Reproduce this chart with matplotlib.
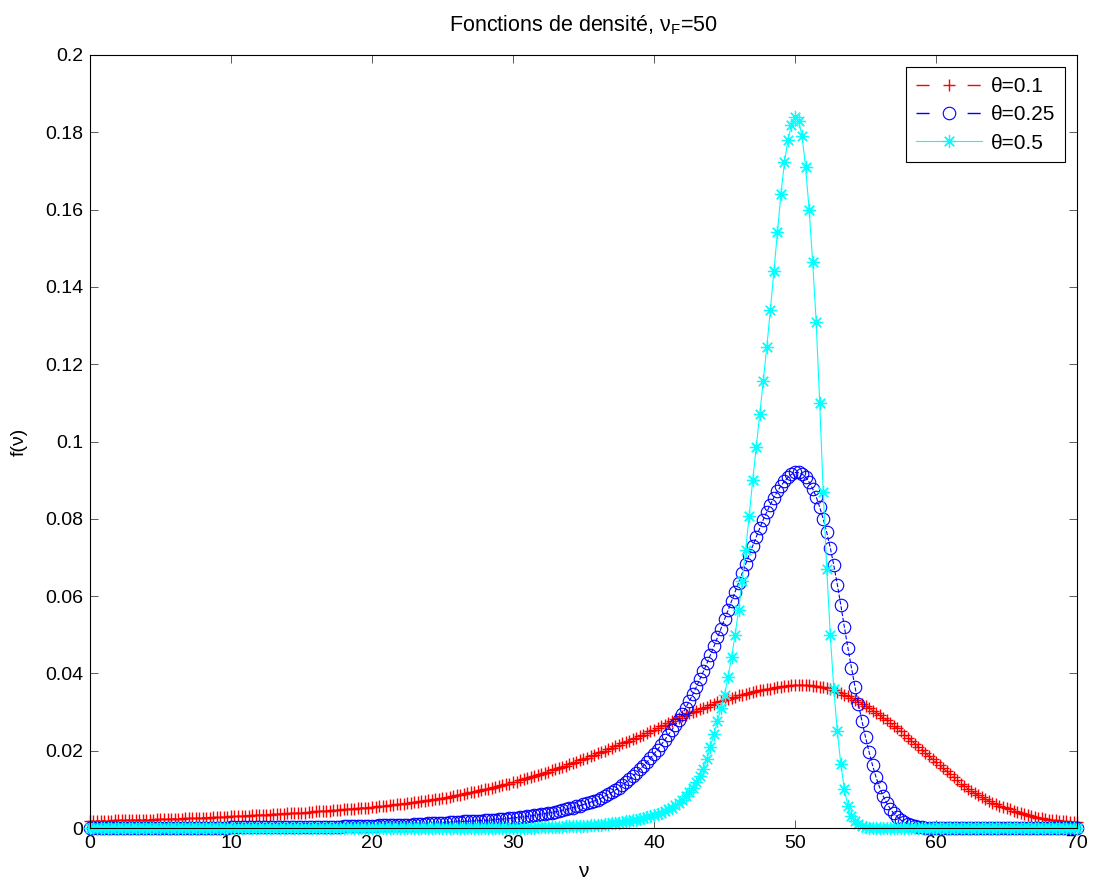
import matplotlib
matplotlib.use('Agg')
import numpy as np
import matplotlib.pyplot as plt

plt.rcParams['font.family'] = ['Liberation Sans', 'DejaVu Sans']
plt.rcParams['mathtext.fontset'] = 'custom'
plt.rcParams['mathtext.rm'] = 'Liberation Sans'

# nu grid (step 0.25), densities
nu = np.arange(0, 70.01, 0.25)

# theta = 0.1  (one row per unit of nu: nu, nu+.25, nu+.5, nu+.75)
dens_01 = [
    .0018, .0018, .0018, .0019,  .0019, .0019, .0019, .0020,
    .0020, .0020, .0020, .0021,  .0021, .0021, .0021, .0022,
    .0022, .0022, .0022, .0023,  .0023, .0023, .0023, .0024,
    .0024, .0024, .0024, .0025,  .0025, .0025, .0026, .0026,
    .0027, .0027, .0027, .0028,  .0028, .0028, .0029, .0029,
    .0030, .0030, .0031, .0031,  .0032, .0032, .0033, .0033,
    .0034, .0034, .0035, .0035,  .0036, .0036, .0037, .0037,
    .0038, .0038, .0039, .0039,  .0040, .0040, .0041, .0042,
    .0043, .0043, .0044, .0044,  .0045, .0046, .0047, .0047,
    .0048, .0049, .0050, .0050,  .0051, .0052, .0053, .0053,
    .0054, .0055, .0056, .0057,  .0058, .0059, .0060, .0061,
    .0062, .0063, .0065, .0066,  .0067, .0068, .0070, .0071,
    .0072, .0073, .0075, .0076,  .0078, .0079, .0081, .0083,
    .0085, .0086, .0088, .0090,  .0092, .0094, .0096, .0098,
    .0100, .0102, .0104, .0106,  .0109, .0111, .0113, .0115,
    .0118, .0120, .0123, .0126,  .0129, .0131, .0134, .0137,
    .0140, .0143, .0146, .0149,  .0152, .0155, .0158, .0161,
    .0165, .0168, .0172, .0175,  .0179, .0182, .0186, .0189,
    .0193, .0196, .0200, .0204,  .0208, .0211, .0215, .0219,
    .0223, .0226, .0230, .0234,  .0238, .0242, .0246, .0250,
    .0254, .0258, .0263, .0267,  .0272, .0276, .0281, .0285,
    .0289, .0293, .0297, .0300,  .0304, .0307, .0311, .0314,
    .0318, .0321, .0325, .0328,  .0331, .0334, .0337, .0340,
    .0343, .0345, .0348, .0350,  .0352, .0354, .0356, .0358,
    .0360, .0361, .0363, .0365,  .0366, .0367, .0368, .0369,
    .0370, .0370, .0370, .0370,  .0369, .0368, .0367, .0366,
    .0364, .0362, .0359, .0356,  .0353, .0349, .0345, .0341,
    .0337, .0332, .0327, .0322,  .0316, .0310, .0304, .0298,
    .0292, .0285, .0279, .0272,  .0265, .0258, .0250, .0242,
    .0234, .0226, .0218, .0210,  .0202, .0194, .0186, .0178,
    .0170, .0162, .0155, .0147,  .0139, .0131, .0123, .0115,
    .0108, .0102, .0096, .0090,  .0085, .0080, .0075, .0070,
    .0066, .0062, .0058, .0054,  .0051, .0048, .0045, .0042,
    .0039, .0036, .0034, .0031,  .0029, .0027, .0025, .0023,
    .0022, .0021, .0020, .0019,  .0018, .0017, .0016, .0015,
    .0015,
]

# theta = 0.25
dens_025 = [.0001] * 40 + [.0002] * 20 + [.0003] * 12 + [
    .0004, .0004, .0004, .0005,  .0005, .0005, .0005, .0006,
    .0006, .0006, .0007, .0007,  .0007, .0007, .0008, .0008,
    .0008, .0008, .0009, .0009,  .0010, .0010, .0011, .0011,
    .0012, .0012, .0013, .0013,  .0014, .0014, .0015, .0015,
    .0016, .0016, .0017, .0017,  .0018, .0018, .0019, .0019,
    .0020, .0020, .0021, .0022,  .0023, .0023, .0024, .0025,
    .0026, .0027, .0028, .0029,  .0030, .0031, .0033, .0034,
    .0036, .0037, .0039, .0040,  .0042, .0044, .0046, .0048,
    .0051, .0053, .0056, .0058,  .0061, .0064, .0067, .0070,
    .0073, .0077, .0082, .0087,  .0092, .0098, .0104, .0111,
    .0118, .0126, .0134, .0143,  .0152, .0161, .0171, .0181,
    .0192, .0203, .0215, .0227,  .0240, .0253, .0266, .0280,
    .0294, .0311, .0328, .0346,  .0365, .0385, .0405, .0426,
    .0448, .0470, .0493, .0516,  .0540, .0563, .0587, .0611,
    .0635, .0659, .0683, .0707,  .0730, .0753, .0776, .0798,
    .0818, .0837, .0855, .0871,  .0885, .0897, .0907, .0915,
    .0920, .0920, .0916, .0908,  .0895, .0878, .0857, .0830,
    .0800, .0765, .0725, .0680,  .0630, .0576, .0520, .0466,
    .0415, .0366, .0320, .0276,  .0235, .0197, .0162, .0131,
    .0105, .0083, .0065, .0050,  .0038, .0029, .0021, .0015,
    .0011, .0008, .0005, .0003,  .0002, .0001, .0000, .0000,
] + [0.0] * 41

# theta = 0.5
dens_05 = [0.0] * 120 + [
    .0001, .0001, .0001, .0001,  .0001, .0001, .0001, .0002,
    .0002, .0002, .0002, .0003,  .0003, .0003, .0003, .0004,
    .0004, .0004, .0005, .0005,  .0006, .0006, .0007, .0007,
    .0008, .0009, .0010, .0011,  .0012, .0013, .0014, .0015,
    .0017, .0018, .0020, .0022,  .0024, .0026, .0028, .0030,
    .0033, .0036, .0040, .0044,  .0048, .0053, .0059, .0066,
    .0073, .0082, .0092, .0104,  .0118, .0134, .0152, .0178,
    .0210, .0243, .0276, .0310,  .0345, .0390, .0442, .0500,
    .0565, .0640, .0720, .0808,  .0900, .0985, .1070, .1157,
    .1245, .1340, .1440, .1543,  .1640, .1722, .1780, .1820,
    .1840, .1830, .1790, .1710,  .1600, .1465, .1310, .1100,
    .0870, .0670, .0500, .0360,  .0250, .0165, .0100, .0058,
    .0030, .0017, .0010, .0006,  .0003, .0001, .0000, .0000,
] + [0.0] * 57

labels = ['θ=0.1', 'θ=0.25', 'θ=0.5']

fig = plt.figure(figsize=(10.93, 8.84), dpi=100)
ax = fig.add_axes([0.0823, 0.0633, 0.9031, 0.8745])

ast = (8, 2, 0)  # matlab-like asterisk
ax.plot(nu, dens_01, '--', color='red', marker='+', ms=8, mew=1.0, lw=0.8,
        label=labels[0], clip_on=False)
ax.plot(nu, dens_025, '--', color='blue', marker='o', ms=9, mfc='none', mew=0.8, lw=0.8,
        label=labels[1], clip_on=False)
ax.plot(nu, dens_05, '-', color='cyan', marker=ast, ms=9.5, mew=0.9, lw=0.8,
        label=labels[2], clip_on=False)

ax.set_xlim(0, 70)
ax.set_ylim(0, 0.2)
ax.set_xticks(np.arange(0, 71, 10))
yt = np.arange(0, 0.201, 0.02)
ax.set_yticks(yt)
ax.set_yticklabels(['0'] + ['%g' % v for v in yt[1:]])
ax.tick_params(direction='in', length=6, width=0.6, top=True, right=True,
               labelsize=14, pad=5, color='#404040')
for s in ax.spines.values():
    s.set_linewidth(0.8)

ax.set_title('Fonctions de densité, ν$_\\mathregular{F}$=50', fontsize=15.5, pad=17)
ax.set_xlabel('ν', fontsize=15, labelpad=7)
ax.set_ylabel('f(ν)', fontsize=14, labelpad=12)

leg = ax.legend(loc='upper right', fontsize=15, numpoints=1, handlelength=3.2,
                fancybox=False, framealpha=1, edgecolor='black',
                borderaxespad=0.6, labelspacing=0.45, handletextpad=0.4,
                borderpad=0.45)
leg.get_frame().set_linewidth(0.8)
# matlab style legend dashes: "-  +  -"
for ln in leg.get_lines()[:2]:
    ln.set_linewidth(1.0)
    ln.set_dashes([9.4, 27.4])

fig.savefig('out.png', dpi=100)
